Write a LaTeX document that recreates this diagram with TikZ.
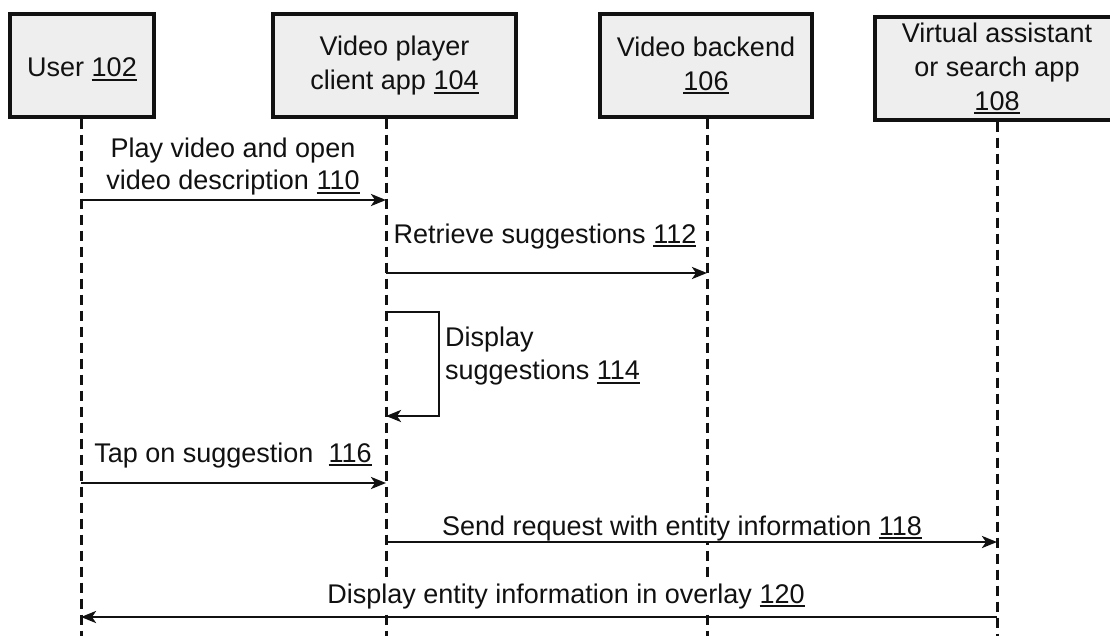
\documentclass[tikz,border=0pt]{standalone}
\usepackage{fontspec}
\setmainfont{Liberation Sans}
\usetikzlibrary{arrows.meta}
\definecolor{boxgray}{HTML}{EEEEEE}
\definecolor{ink}{HTML}{111111}
\newcommand\refnum[1]{\leavevmode\setbox0\hbox{#1}\rlap{\rule[-4.3pt]{\wd0}{2pt}}\box0}
\begin{document}
\begin{tikzpicture}[x=1pt,y=-1pt,
  actor/.style={draw=ink, line width=3.2pt, fill=boxgray, text=ink, align=center, inner sep=0pt,
    font=\fontsize{27}{34}\selectfont, execute at begin node={\rule{0pt}{27pt}}},
  lifeline/.style={draw=ink, line width=3pt, dash pattern=on 10pt off 6pt},
  msg/.style={draw=ink, line width=2.8pt, -{Stealth[length=15pt,width=12pt,inset=4pt]}},
  lbl/.style={fill=white, text=ink, inner sep=2pt, font=\fontsize{27}{32.5}\selectfont}]
\path[use as bounding box] (0,0) rectangle (1110,635);
\clip (0,0) rectangle (1110,635);

% participants
\node[actor, minimum width=144pt, minimum height=103pt] (user) at (82,65.5) {User \refnum{102}};
\node[actor, minimum width=243pt, minimum height=103pt] (client) at (394.5,65.5) {Video player\\client app \refnum{104}};
\node[actor, minimum width=212pt, minimum height=103pt] (backend) at (706,65.5) {Video backend\\\refnum{106}};
\node[actor, minimum width=244pt, minimum height=103pt] (va) at (997,68.5) {Virtual assistant\\or search app\\\refnum{108}};

% lifeline tops and bottoms
\coordinate (uT) at (user.south -| 81,0);
\coordinate (cT) at (client.south -| 386,0);
\coordinate (bT) at (backend.south -| 707,0);
\coordinate (vT) at (va.south -| 997,0);
\coordinate (uB) at (uT |- 0,645);
\coordinate (cB) at (cT |- 0,645);
\coordinate (bB) at (bT |- 0,645);
\coordinate (vB) at (vT |- 0,645);
\draw[lifeline] (uT) -- (uB);
\draw[lifeline] (cT) -- (cB);
\draw[lifeline] (bT) -- (bB);
\draw[lifeline] (vT) -- (vB);

% message end points
\coordinate (m110a) at (uT |- 0,200);  \coordinate (m110b) at (cT |- 0,200);
\coordinate (m112a) at (cT |- 0,273);  \coordinate (m112b) at (bT |- 0,273);
\coordinate (m114a) at (cT |- 0,312);  \coordinate (m114b) at (cT |- 0,416);
\coordinate (m116a) at (uT |- 0,483);  \coordinate (m116b) at (cT |- 0,483);
\coordinate (m118a) at (cT |- 0,542);  \coordinate (m118b) at (vT |- 0,542);
\coordinate (m120a) at (vT |- 0,617);  \coordinate (m120b) at (uT |- 0,617);

% labels
\node[lbl, align=center] (l110) at (233,166.5) {Play video and open\\video description \refnum{110}};
\node[lbl, anchor=base] (l112) at (545,243) {Retrieve suggestions \refnum{112}};
\node[lbl, align=left, anchor=west] (l114) at (443,356) {Display\\suggestions \refnum{114}};
\node[lbl, anchor=base] (l116) at (233,462) {Tap on suggestion\ \ \refnum{116}};
\node[lbl, anchor=base] (l118) at (682,535) {Send request with entity information \refnum{118}};
\node[lbl, anchor=base, inner xsep=20pt] (l120) at (566,603) {Display entity information in overlay \refnum{120}};

% messages
\draw[msg] (m110a) -- (m110b);
\draw[msg] (m112a) -- (m112b);
\draw[msg] (m114a) -- ++(53,0) |- (m114b);
\draw[msg] (m116a) -- (m116b);
\draw[msg] (m118a) -- (m118b);
\draw[msg] (m120a) -- (m120b);
\end{tikzpicture}
\end{document}
